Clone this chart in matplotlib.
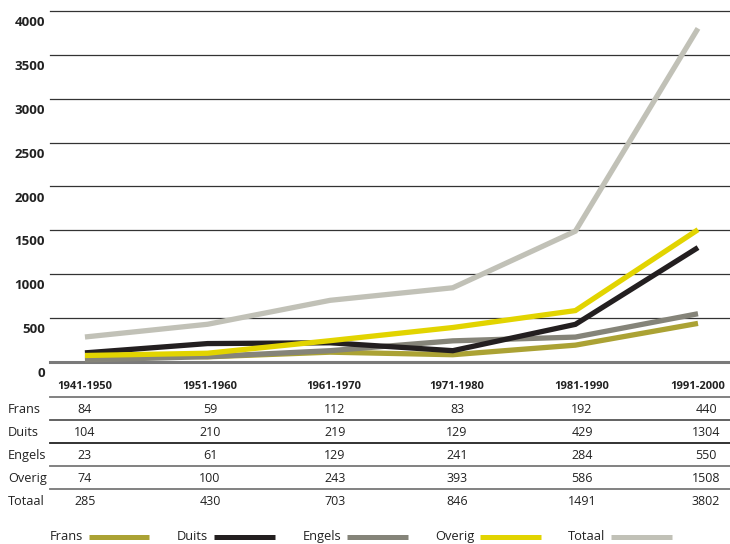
import matplotlib.pyplot as plt
from matplotlib.lines import Line2D

periods = ['1941-1950', '1951-1960', '1961-1970', '1971-1980', '1981-1990', '1991-2000']
series = ['Frans', 'Duits', 'Engels', 'Overig', 'Totaal']
frans = [84, 59, 112, 83, 192, 440]
duits = [104, 210, 219, 129, 429, 1304]
engels = [23, 61, 129, 241, 284, 550]
overig = [74, 100, 243, 393, 586, 1508]
totaal = [285, 430, 703, 846, 1491, 3802]
yticks = [0, 500, 1000, 1500, 2000, 2500, 3000, 3500, 4000]

values = {'Frans': frans, 'Duits': duits, 'Engels': engels, 'Overig': overig, 'Totaal': totaal}
colors = {'Frans': '#aba234', 'Duits': '#231f20', 'Engels': '#858479',
          'Overig': '#e2d400', 'Totaal': '#c1c1b7'}

plt.rcParams['font.family'] = ['Open Sans', 'DejaVu Sans']

W, H = 730, 544
fig = plt.figure(figsize=(7.3, 5.44), dpi=100)

# axes: x from 50 to 730 px, y 0 at 362 px, 4000 at 11 px
ax = fig.add_axes([50 / W, (H - 362) / H, 680 / W, (362 - 11) / H])
ax.set_ylim(0, 4000)
ax.set_xlim(-0.285, 5.261)
for s in ['top', 'left', 'right']:
    ax.spines[s].set_visible(False)
ax.spines['bottom'].set_color('#7a7a7a')
ax.spines['bottom'].set_linewidth(2.2)
ax.set_xticks([])
ax.set_yticks([])

for v in yticks[1:]:
    ax.axhline(v, color='#333333', lw=0.9, zorder=1, clip_on=False)

for v in yticks:
    y_px = 362 - v / 4000 * 351 + 10
    fig.text(45 / W, 1 - y_px / H, str(v), ha='right', va='center_baseline',
             fontsize=9.5, fontweight='bold', color='#222222')

x = list(range(len(periods)))
for name in ['Frans', 'Engels', 'Duits', 'Overig', 'Totaal']:
    ax.plot(x, values[name], color=colors[name], lw=3.8, solid_joinstyle='miter',
            solid_capstyle='butt', zorder=3, clip_on=False)

# column centres in px
col_px = [85, 210, 334, 457, 582, 698]
val_px = [85, 210, 335, 457, 582, 706]
for cx, p in zip(col_px, periods):
    fig.text(cx / W, 1 - 385 / H, p, ha='center', va='center_baseline',
             fontsize=8, fontweight='bold', color='#222222')

row_y = [408, 431, 454, 477, 500]
for ry, name in zip(row_y, series):
    fig.text(8 / W, 1 - ry / H, name, ha='left', va='center_baseline', fontsize=9.2,
             color='#222222')
    for cx, v in zip(val_px, values[name]):
        fig.text(cx / W, 1 - ry / H, str(v), ha='center', va='center_baseline',
                 fontsize=9, color='#222222')

line_y = [397, 420, 443, 466, 489]
line_c = ['#777777', '#555555', '#222222', '#777777', '#777777']
for ly, lc in zip(line_y, line_c):
    fig.add_artist(Line2D([50 / W, 1], [1 - ly / H, 1 - ly / H], color=lc, lw=1.3,
                          transform=fig.transFigure))

# legend along the bottom edge
leg_text_px = [50, 177, 303, 435, 568]
leg_sw_px = [(89, 149), (214, 275), (347, 408), (480, 541), (611, 672)]
for name, tx, (s0, s1) in zip(series, leg_text_px, leg_sw_px):
    fig.text(tx / W, 1 - 540 / H, name, ha='left', va='baseline', fontsize=9.3,
             color='#222222')
    fig.add_artist(Line2D([s0 / W, s1 / W], [1 - 537 / H, 1 - 537 / H],
                          color=colors[name], lw=3.6, solid_capstyle='butt',
                          transform=fig.transFigure))

fig.savefig('out.png', dpi=100)
